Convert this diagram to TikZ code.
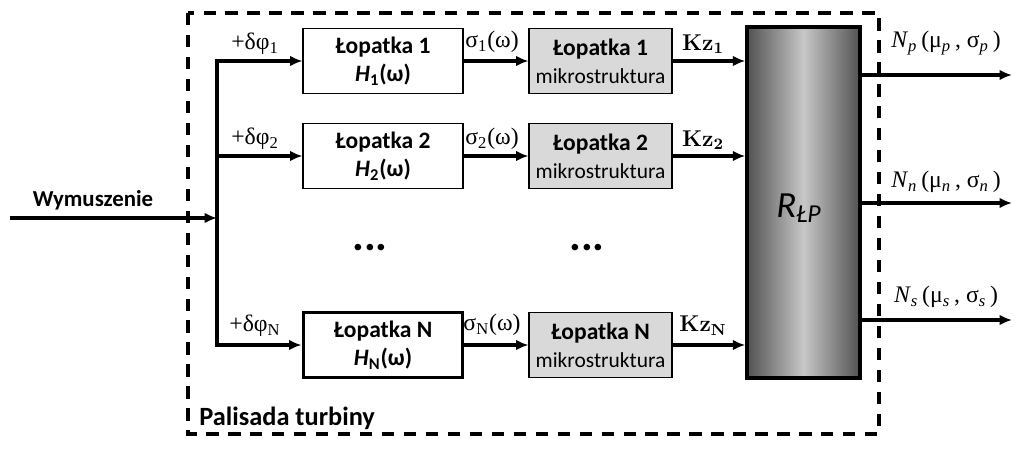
\documentclass[tikz,border=0pt]{standalone}
\usepackage{fontspec}
\setmainfont{Carlito}
\newfontfamily\tnr{Liberation Serif}
\newfontfamily\lmr{Latin Modern Roman}
\usetikzlibrary{arrows.meta}

\begin{document}
\begin{tikzpicture}[x=0.02cm,y=-0.02cm,
    arr/.style={line width=2pt,-{Latex[length=7pt,width=6pt]}},
    blade/.style={draw,line width=0.6pt,minimum width=3.2cm,minimum height=1.3cm,inner sep=0pt,align=center,font=\fontsize{13.4}{16}\selectfont},
    micro/.style={blade,fill=black!15,minimum width=2.86cm},
    lab/.style={font=\tnr\fontsize{13.5}{15}\selectfont,inner sep=1pt}]
    \useasboundingbox (0,0) rectangle (1024,453);
    \fill[white] (0,0) rectangle (1024,453);
    % frame of the palisade
    \draw[line width=2pt,dash pattern=on 7pt off 5.5pt] (188,13) rectangle (879,434);
    \node[anchor=west,inner sep=0pt] (pal) at (199,418) {\fontsize{15}{18}\selectfont\bfseries Palisada turbiny};
    % blades
    \node[blade] (b1) at (383,61) {\textbf{Łopatka 1}\\\textbf{\textit{H}\textsubscript{1}(ω)}};
    \node[blade] (b2) at (383,156) {\textbf{Łopatka 2}\\\textbf{\textit{H}\textsubscript{2}(ω)}};
    \node[blade,line width=1.7pt] (bN) at (383,345) {\textbf{Łopatka N}\\\textbf{\textit{H}\textsubscript{N}(ω)}};
    \node[micro] (m1) at (600.5,61) {\textbf{Łopatka 1}\\{\fontsize{12.2}{15}\selectfont mikrostruktura}};
    \node[micro] (m2) at (600.5,156) {\textbf{Łopatka 2}\\{\fontsize{12.2}{15}\selectfont mikrostruktura}};
    \node[micro] (mN) at (600.5,345) {\textbf{Łopatka N}\\{\fontsize{12.2}{15}\selectfont mikrostruktura}};
    \node[inner sep=0pt] (dots1) at (370,248) {\fontsize{25}{25}\selectfont\bfseries ...};
    \node[inner sep=0pt] (dots2) at (587,248) {\fontsize{25}{25}\selectfont\bfseries ...};
    % collecting block
    \node[draw,line width=2pt,minimum width=2.26cm,minimum height=7.02cm,inner sep=0pt,
        left color=black!68,right color=black!68,middle color=black!22] (R) at (803.5,202.5) {};
    \node (RLP) at (799,208) {\fontsize{21}{24}\selectfont\itshape R\textsubscript{ŁP}};
    % input and bus
    \coordinate (in) at (10,218);
    \coordinate (bus) at (217,218);
    \draw[arr] (in) -- (bus);
    \node[font=\fontsize{13}{15}\selectfont\bfseries] (wym) at (93,200) {Wymuszenie};
    \draw[line width=2pt,line cap=rect] (b1 -| bus) -- (bN -| bus);
    \draw[arr] (b1 -| bus) -- (b1);
    \draw[arr] (b2 -| bus) -- (b2);
    \draw[arr] (bN -| bus) -- (bN);
    \node[lab] (dp1) at (255,44) {+δφ\textsubscript{1}};
    \node[lab] (dp2) at (255,139) {+δφ\textsubscript{2}};
    \node[lab] (dpN) at (255,326) {+δφ\textsubscript{N}};
    % blade -> microstructure
    \draw[arr] (b1) -- (m1);
    \draw[arr] (b2) -- (m2);
    \draw[arr] (bN) -- (mN);
    \node[lab] (s1) at (492,42) {σ\textsubscript{1}(ω)};
    \node[lab] (s2) at (492,139) {σ\textsubscript{2}(ω)};
    \node[lab] (sN) at (492,325) {σ\textsubscript{N}(ω)};
    % microstructure -> R
    \draw[arr] (m1) -- (R.west |- m1);
    \draw[arr] (m2) -- (R.west |- m2);
    \draw[arr] (mN) -- (R.west |- mN);
    \node[font=\lmr\bfseries\fontsize{13}{15}\selectfont] (k1) at (703,44) {Kz\textsubscript{1}};
    \node[font=\lmr\bfseries\fontsize{13}{15}\selectfont] (k2) at (703,140) {Kz\textsubscript{2}};
    \node[font=\lmr\bfseries\fontsize{13}{15}\selectfont] (kN) at (703,326) {Kz\textsubscript{N}};
    % outputs
    \coordinate (op) at (1012,75);
    \coordinate (on) at (1012,203);
    \coordinate (os) at (1012,320);
    \draw[arr] (R.east |- op) -- (op);
    \draw[arr] (R.east |- on) -- (on);
    \draw[arr] (R.east |- os) -- (os);
    \node[lab] (Np) at (946,43) {\textit{N}\textsubscript{\textit{p}}\,(μ\textsubscript{\textit{p}}\,, σ\textsubscript{\textit{p}}\,)};
    \node[lab] (Nn) at (946,182) {\textit{N}\textsubscript{\textit{n}}\,(μ\textsubscript{\textit{n}}\,, σ\textsubscript{\textit{n}}\,)};
    \node[lab] (Ns) at (946,297) {\textit{N}\textsubscript{\textit{s}}\,(μ\textsubscript{\textit{s}}\,, σ\textsubscript{\textit{s}}\,)};
\end{tikzpicture}
\end{document}
